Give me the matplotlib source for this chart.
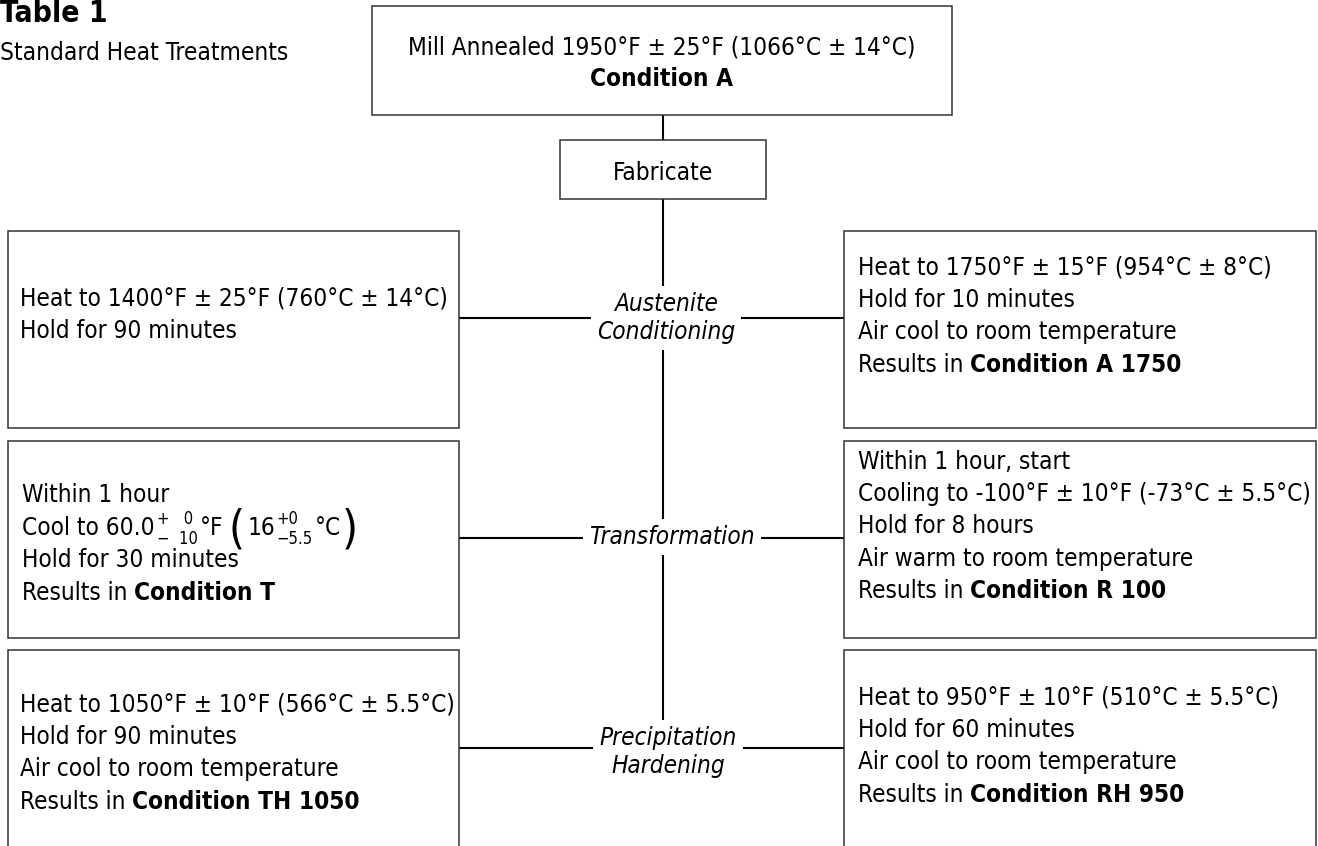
import matplotlib
matplotlib.use("Agg")
import matplotlib.pyplot as plt
from matplotlib.patches import Rectangle
from matplotlib import font_manager

# pick a narrow face if one is installed, the original uses a condensed grotesque
fonts = font_manager.fontManager.ttflist
names = {f.name for f in fonts}
STRETCH = "normal"
if "Liberation Sans Narrow" in names:
    FONT = "Liberation Sans Narrow"
elif any(f.name == "DejaVu Sans" and f.stretch in ("condensed", "semi-condensed")
         for f in fonts if isinstance(f.stretch, str)):
    FONT = "DejaVu Sans"
    STRETCH = "condensed"
elif "Liberation Sans" in names:
    FONT = "Liberation Sans"
else:
    FONT = "DejaVu Sans"
plt.rcParams["font.family"] = [FONT, "DejaVu Sans"]
plt.rcParams["font.stretch"] = STRETCH

# ---- text content of the chart ----
title = "Table 1"
subtitle = "Standard Heat Treatments"
top_text = "Mill Annealed 1950°F ± 25°F (1066°C ± 14°C)"
top_bold = "Condition A"
fabricate = "Fabricate"
stage_labels = ["Austenite\nConditioning", "Transformation", "Precipitation\nHardening"]

# each line: (regular part, bold part)
left_lines = [
    [("Heat to 1400°F ± 25°F (760°C ± 14°C)", ""), ("Hold for 90 minutes", "")],
    [("Within 1 hour", ""), ("COOL", ""), ("Hold for 30 minutes", ""),
     ("Results in", "Condition T")],
    [("Heat to 1050°F ± 10°F (566°C ± 5.5°C)", ""), ("Hold for 90 minutes", ""),
     ("Air cool to room temperature", ""), ("Results in", "Condition TH 1050")],
]
right_lines = [
    [("Heat to 1750°F ± 15°F (954°C ± 8°C)", ""), ("Hold for 10 minutes", ""),
     ("Air cool to room temperature", ""), ("Results in", "Condition A 1750")],
    [("Within 1 hour, start", ""), ("Cooling to -100°F ± 10°F (-73°C ± 5.5°C)", ""),
     ("Hold for 8 hours", ""), ("Air warm to room temperature", ""),
     ("Results in", "Condition R 100")],
    [("Heat to 950°F ± 10°F (510°C ± 5.5°C)", ""), ("Hold for 60 minutes", ""),
     ("Air cool to room temperature", ""), ("Results in", "Condition RH 950")],
]
cool_f = ["Cool to 60.0", "+   0", "\u2212  10", "°F"]
cool_c = ["16", "+0", "\u22125.5", "°C"]

# ---- layout (pixel coordinates, y downward) ----
LINE_GAP = 32.4
CX = 663
row_top = [231, 441, 650]
row_bot = [428, 638, 870]
row_y = [318, 538, 748]
left_x0, left_x1 = 8, 459
right_x0, right_x1 = 844, 1316
left_first = [296, 493, 702]
right_first = [265, 459, 695]
label_xy = [(666, 318), (672, 537), (668, 752)]

fig = plt.figure(figsize=(13.18, 8.46), dpi=100)
ax = fig.add_axes([0, 0, 1, 1])
ax.set_xlim(0, 1318)
ax.set_ylim(846, 0)
ax.axis("off")

# size the font so the longest line gets the width it has in the original
renderer = fig.canvas.get_renderer()
probe = ax.text(0, 0, right_lines[1][1][0], fontsize=20)
FS = 20 * 452 / probe.get_window_extent(renderer).width
probe.remove()
probe = ax.text(0, 0, title, fontsize=20, fontweight="bold")
TFS = 20 * 108 / probe.get_window_extent(renderer).width
probe.remove()
SMALL = FS * 0.68

box_kw = dict(facecolor="white", edgecolor="#333333", linewidth=1.1, zorder=2)


def box(x0, y0, x1, y1):
    ax.add_patch(Rectangle((x0, y0), x1 - x0, y1 - y0, **box_kw))


def cool_line(x, y):
    base = ax.text(x, y, cool_f[0], fontsize=FS, va="center_baseline", zorder=4)
    ax.annotate(cool_f[1], xy=(1, 0.5), xycoords=base, xytext=(2, 0),
                textcoords="offset points", fontsize=SMALL, va="bottom", zorder=4)
    sub = ax.annotate(cool_f[2], xy=(1, 0.42), xycoords=base, xytext=(2, 0),
                      textcoords="offset points", fontsize=SMALL, va="top", zorder=4)
    deg = ax.annotate(cool_f[3], xy=(1, 0), xycoords=(sub, base), xytext=(1, 0),
                      textcoords="offset points", fontsize=FS, va="bottom", zorder=4)
    par = ax.annotate("(", xy=(1, 0.4), xycoords=(deg, base), xytext=(4, 0),
                      textcoords="offset points", fontsize=FS * 1.9, va="center", zorder=4)
    t16 = ax.annotate(cool_c[0], xy=(1, 0), xycoords=(par, base), xytext=(2, 0),
                      textcoords="offset points", fontsize=FS, va="bottom", zorder=4)
    ax.annotate(cool_c[1], xy=(1, 0.5), xycoords=t16, xytext=(1, 0),
                textcoords="offset points", fontsize=SMALL, va="bottom", zorder=4)
    sub2 = ax.annotate(cool_c[2], xy=(1, 0.42), xycoords=t16, xytext=(1, 0),
                       textcoords="offset points", fontsize=SMALL, va="top", zorder=4)
    degc = ax.annotate(cool_c[3], xy=(1, 0), xycoords=(sub2, base), xytext=(1, 0),
                       textcoords="offset points", fontsize=FS, va="bottom", zorder=4)
    ax.annotate(")", xy=(1, 0.4), xycoords=(degc, base), xytext=(1, 0),
                textcoords="offset points", fontsize=FS * 1.9, va="center", zorder=4)


def write_lines(lines, x, y0):
    for i, (reg, bold) in enumerate(lines):
        y = y0 + i * LINE_GAP
        if reg == "COOL":
            cool_line(x, y)
            continue
        t = ax.text(x, y, reg, fontsize=FS, va="center_baseline", zorder=4)
        if bold:
            ax.annotate(bold, xy=(1, 0), xycoords=t, xytext=(FS * 0.25, 0),
                        textcoords="offset points", fontsize=FS,
                        fontweight="bold", va="bottom", zorder=4)


# title
ax.text(0, -1, title, fontsize=TFS, fontweight="heavy", va="top", ha="left")
ax.text(0, 51, subtitle, fontsize=FS, va="center_baseline", ha="left")

# connector lines
line_kw = dict(color="black", linewidth=1.5, zorder=1, solid_capstyle="butt")
ax.plot([CX, CX], [115, 722], **line_kw)
for y in row_y:
    ax.plot([left_x1, right_x0], [y, y], **line_kw)

# top and fabricate boxes
box(372, 6, 952, 115)
ax.text(662, 45, top_text, fontsize=FS, ha="center", va="center_baseline", zorder=4)
ax.text(662, 77, top_bold, fontsize=FS, ha="center", va="center_baseline",
        fontweight="bold", zorder=4)
box(560, 140, 766, 199)
ax.text(663, 170, fabricate, fontsize=FS, ha="center", va="center_baseline", zorder=4)

# side boxes
for i in range(3):
    box(left_x0, row_top[i], left_x1, row_bot[i])
    box(right_x0, row_top[i], right_x1, row_bot[i])
    write_lines(left_lines[i], 20 if i != 1 else 22, left_first[i])
    write_lines(right_lines[i], 858, right_first[i])

# stage labels on the center line
for (lx, ly), lab in zip(label_xy, stage_labels):
    ax.text(lx, ly, lab, fontsize=FS, style="italic", ha="center", va="center",
            linespacing=1.2, zorder=3,
            bbox=dict(boxstyle="square,pad=0.25", facecolor="white", edgecolor="none"))

fig.savefig("out.png", dpi=100)
